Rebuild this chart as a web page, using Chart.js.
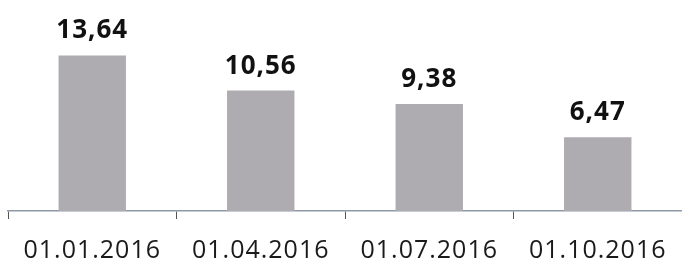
<!DOCTYPE html>
<html>
<head>
<meta charset="utf-8">
<script src="https://cdn.jsdelivr.net/npm/chart.js@4.4.0/dist/chart.umd.min.js"></script>
<style>
  html, body { margin: 0; padding: 0; background: #fff; }
  #wrap { width: 682px; height: 261px; }
</style>
</head>
<body>
<div id="wrap"><canvas id="rateChart"></canvas></div>
<script>
const dates = ['01.01.2016', '01.04.2016', '01.07.2016', '01.10.2016'];
const rates = [13.64, 10.56, 9.38, 6.47];

// value labels above the bars, comma as decimal separator
const valueLabels = {
    id: 'valueLabels',
    beforeDraw(chart) {
        chart.ctx.letterSpacing = '1px';
    },
    afterDatasetsDraw(chart) {
        const ctx = chart.ctx;
        const meta = chart.getDatasetMeta(0);
        ctx.save();
        ctx.font = 'bold 26px "Open Sans"';
        ctx.fillStyle = '#111';
        ctx.textAlign = 'center';
        ctx.textBaseline = 'alphabetic';
        meta.data.forEach((bar, i) => {
            ctx.fillText(rates[i].toFixed(2).replace('.', ','), bar.x, bar.y - 17);
        });
        ctx.restore();
    }
};

const ctx = document.getElementById('rateChart').getContext('2d');

new Chart(ctx, {
    type: 'bar',
    data: {
        labels: dates,
        datasets: [{
            data: rates,
            backgroundColor: '#aeabb1',
            borderWidth: 0,
            barPercentage: 0.8,
            categoryPercentage: 0.5
        }]
    },
    options: {
        responsive: true,
        maintainAspectRatio: false,
        animation: false,
        layout: { padding: { left: 8, right: 0, top: 0, bottom: -22 } },
        plugins: {
            legend: { display: false },
            tooltip: { enabled: false }
        },
        scales: {
            y: {
                display: false,
                min: 0,
                max: 18.5
            },
            x: {
                offset: true,
                border: { display: true, color: '#8f98a6', width: 1.5 },
                grid: {
                    offset: true,
                    drawOnChartArea: false,
                    drawTicks: true,
                    tickLength: 8,
                    color: '#555'
                },
                ticks: {
                    color: '#1a1a1a',
                    padding: 17,
                    font: { family: '"Open Sans"', size: 25 }
                }
            }
        }
    },
    plugins: [valueLabels]
});
</script>
</body>
</html>
